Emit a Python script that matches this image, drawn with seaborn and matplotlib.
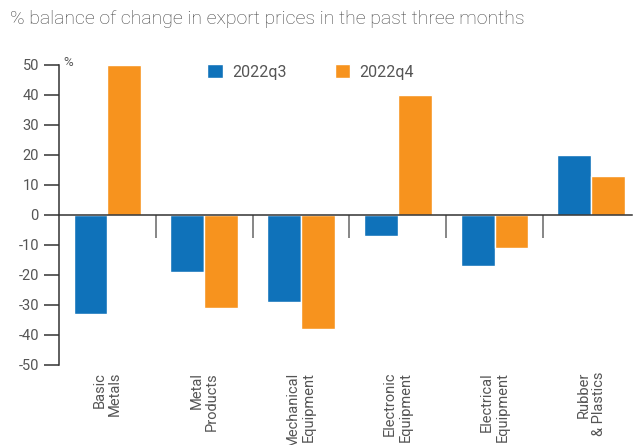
import numpy as np
import pandas as pd
import matplotlib
matplotlib.use("Agg")
import matplotlib.pyplot as plt
import seaborn as sns

# data
categories = ["Basic\nMetals", "Metal\nProducts", "Mechanical\nEquipment",
              "Electronic\nEquipment", "Electrical\nEquipment", "Rubber\n& Plastics"]
q3_values = [-33, -19, -29, -7, -17, 20]
q4_values = [50, -31, -38, 40, -11, 13]
series_names = ["2022q3", "2022q4"]
y_ticks = list(range(-50, 51, 10))

colors = {"2022q3": "#0F72BA", "2022q4": "#F7931E"}
text_col = "#555555"
axis_col = "#333333"

df = pd.DataFrame({
    "category": categories * 2,
    "series": [series_names[0]] * len(categories) + [series_names[1]] * len(categories),
    "value": q3_values + q4_values,
})

sns.set_theme(style="white")
plt.rcParams["font.family"] = ["Roboto", "DejaVu Sans"]
plt.rcParams["axes.unicode_minus"] = False

fig = plt.figure(figsize=(6.36, 4.45), dpi=100)
ax = fig.add_axes([59 / 636, 80 / 445, 573 / 636, 300 / 445])

sns.barplot(data=df, x="category", y="value", hue="series", palette=colors,
            width=0.7, gap=0, saturation=1, ax=ax, legend=True)

ax.set_xlim(-0.5, 5.42)
ax.set_ylim(-50, 50)
ax.set_yticks(y_ticks)
ax.set_yticklabels([str(v) for v in y_ticks])
ax.set_xlabel("")
ax.set_ylabel("")

# spines: left axis + zero line
for s in ["top", "right"]:
    ax.spines[s].set_visible(False)
ax.spines["left"].set_color(axis_col)
ax.spines["left"].set_linewidth(1.1)
ax.spines["bottom"].set_position(("data", 0))
ax.spines["bottom"].set_color(axis_col)
ax.spines["bottom"].set_linewidth(1.1)

ax.tick_params(axis="y", direction="out", length=10.5, width=1.1, color=axis_col,
               labelsize=10.5, labelcolor=text_col, pad=4, left=True)
# category labels far below the zero line, separators as minor ticks
ax.set_xticks(range(len(categories)))
ax.set_xticklabels(categories, rotation=90, ha="center", va="top",
                   multialignment="right", fontsize=10.5, color=text_col,
                   linespacing=1.15)
ax.tick_params(axis="x", which="major", length=0, pad=113, bottom=True)
ax.set_xticks([i + 0.5 for i in range(len(categories) - 1)], minor=True)
ax.tick_params(axis="x", which="minor", direction="out", length=16.5, width=1.1,
               color="#666666", bottom=True)

ax.text(0.007, 1.01, "%", transform=ax.transAxes, fontsize=9.5, color=text_col,
        ha="left", va="center")

handles, labels = ax.get_legend_handles_labels()
ax.legend(handles, labels, loc="center left", bbox_to_anchor=(193 / 636, 373 / 445),
          bbox_transform=fig.transFigure, ncol=2, frameon=False, fontsize=11.5,
          handlelength=0.95, handleheight=0.95, handletextpad=0.6, columnspacing=3.0,
          labelcolor=text_col)

fig.text(10 / 636, 1 - 19 / 445, "% balance of change in export prices in the past three months",
         fontsize=14, color="#444444", ha="left", va="center", fontweight="light")

fig.savefig("out.png", dpi=100)
